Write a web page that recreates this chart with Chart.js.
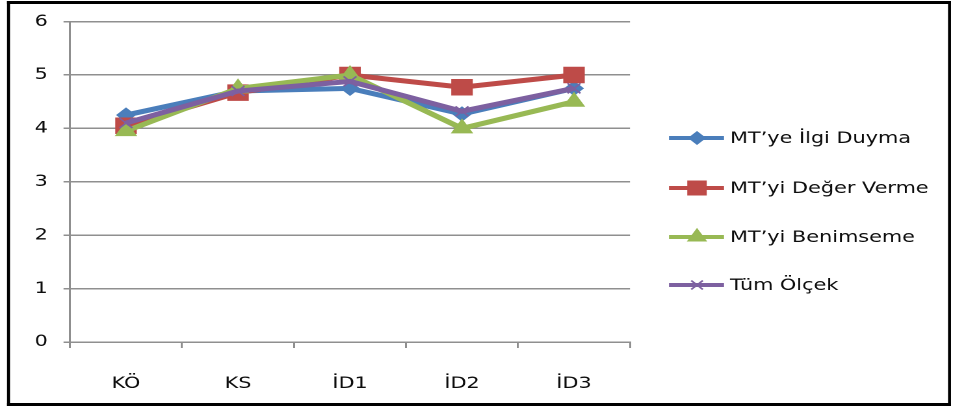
<!DOCTYPE html>
<html>
<head>
<meta charset="utf-8">
<script src="https://cdn.jsdelivr.net/npm/chart.js@4/dist/chart.umd.min.js"></script>
<style>
  html, body { margin: 0; padding: 0; background: #fff; overflow: hidden; }
  #wrap { width: 733px; height: 408px; transform: scaleX(1.3001); transform-origin: 0 0; }
</style>
</head>
<body>
<div id="wrap"><canvas id="c" width="733" height="408"></canvas></div>
<script>
const categories = ['KÖ', 'KS', 'İD1', 'İD2', 'İD3'];
const seriesNames = ['MT’ye İlgi Duyma', 'MT’yi Değer Verme', 'MT’yi Benimseme', 'Tüm Ölçek'];
const ilgiDuyma   = [4.25, 4.70, 4.75, 4.27, 4.75];
const degerVerme  = [4.05, 4.67, 5.00, 4.77, 5.00];
const benimseme   = [3.95, 4.75, 5.00, 4.00, 4.50];
const tumOlcek    = [4.10, 4.70, 4.88, 4.32, 4.75];
const yTicks = [0, 1, 2, 3, 4, 5, 6];

const FONT = 'DejaVu Sans';
const TEXT = '#0d0d0d';
const GRID = '#8f8f8f';
const SX = 1.3001; // horizontal stretch of the whole sheet

const styles = [
  { color: '#4A7EBB', pointStyle: 'rectRot', radius: 7,  border: 1 },
  { color: '#BE4B48', pointStyle: 'rect',    radius: 11, border: 1 },
  { color: '#98B954', pointStyle: 'triangle',radius: 9,  border: 1 },
  { color: '#7D60A0', pointStyle: 'crossRot',radius: 7,  border: 1.5 }
];
const values = [ilgiDuyma, degerVerme, benimseme, tumOlcek];

const datasets = values.map((v, i) => ({
  label: seriesNames[i],
  data: v,
  borderColor: styles[i].color,
  backgroundColor: styles[i].color,
  borderWidth: 5,
  pointStyle: styles[i].pointStyle,
  pointRadius: styles[i].radius,
  pointBorderWidth: styles[i].border,
  pointBorderColor: styles[i].color,
  pointBackgroundColor: styles[i].color,
  tension: 0,
  order: values.length - i
}));

const sheet = {
  id: 'sheet',
  beforeDraw(chart) {
    const ctx = chart.ctx;
    ctx.save();
    ctx.fillStyle = '#fff';
    ctx.fillRect(0, 0, chart.width, chart.height);
    ctx.restore();
  },
  afterDraw(chart) {
    const ctx = chart.ctx;
    ctx.save();
    // legend: line + marker + label, one row per series
    const rows = [138, 188, 237, 285];
    const x0 = 669 / SX, x1 = 724 / SX, xm = 697 / SX, xt = 730 / SX;
    chart.data.datasets.forEach((ds, i) => {
      const y = rows[i];
      ctx.strokeStyle = ds.borderColor;
      ctx.lineWidth = 4;
      ctx.beginPath();
      ctx.moveTo(x0, y);
      ctx.lineTo(x1, y);
      ctx.stroke();
      ctx.fillStyle = ds.pointBackgroundColor;
      ctx.strokeStyle = ds.pointBorderColor;
      ctx.lineWidth = ds.pointBorderWidth;
      Chart.helpers.drawPoint(ctx, {
        pointStyle: ds.pointStyle,
        radius: ds.pointRadius * 0.9,
        rotation: 0,
        borderWidth: ds.pointBorderWidth
      }, xm, y);
      ctx.fillStyle = TEXT;
      ctx.font = '16px "' + FONT + '"';
      ctx.textAlign = 'left';
      ctx.textBaseline = 'middle';
      ctx.fillText(ds.label, xt, y + 1);
    });
    // outer frame
    ctx.fillStyle = '#000';
    const L = 7 / SX, R = 951 / SX, w = 3 / SX;
    ctx.fillRect(L, 1, R - L, 3);
    ctx.fillRect(L, 403, R - L, 3);
    ctx.fillRect(L, 1, w, 405);
    ctx.fillRect(R - w, 1, w, 405);
    ctx.restore();
  }
};

new Chart(document.getElementById('c'), {
  type: 'line',
  data: { labels: categories, datasets },
  options: {
    responsive: false,
    animation: false,
    devicePixelRatio: 2,
    layout: { padding: { left: 0, right: 733 - 630 / SX, top: 20, bottom: 0 } },
    plugins: { legend: { display: false }, tooltip: { enabled: false } },
    scales: {
      x: {
        type: 'category',
        offset: true,
        grid: { offset: true, drawOnChartArea: false, drawTicks: true, tickLength: 6, color: GRID, lineWidth: 1.5 },
        border: { color: GRID, width: 1.5 },
        ticks: { color: TEXT, font: { family: FONT, size: 16 }, padding: 26, maxRotation: 0 },
        afterFit(scale) { scale.height = 408 - 342; }
      },
      y: {
        min: 0, max: 6,
        afterBuildTicks(scale) { scale.ticks = yTicks.map(v => ({ value: v })); },
        grid: { color: GRID, lineWidth: 1.5, drawTicks: true, tickLength: 5 },
        border: { color: GRID, width: 1.5 },
        ticks: { color: TEXT, font: { family: FONT, size: 16 }, padding: 12 },
        afterFit(scale) { scale.width = 70 / SX; }
      }
    }
  },
  plugins: [sheet]
});
</script>
</body>
</html>
